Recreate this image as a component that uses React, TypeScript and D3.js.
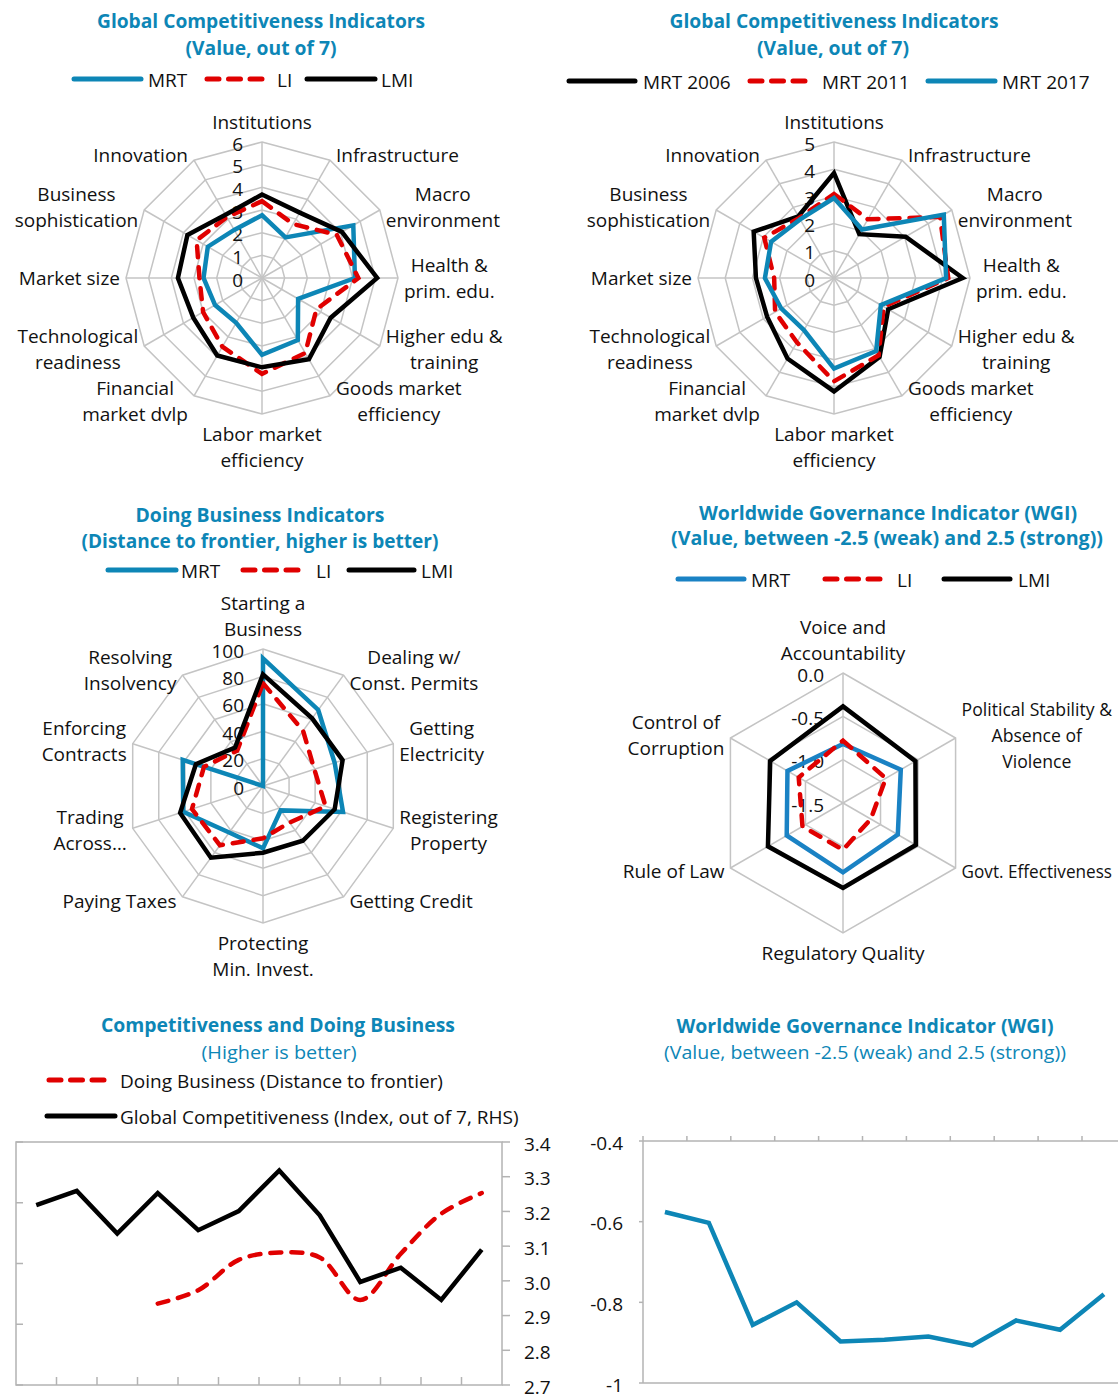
import React from 'react';
import * as d3 from 'd3';

const FONT = "'Open Sans', 'Noto Sans', 'DejaVu Sans', sans-serif";
const BLUE = '#0d86b6';
const BLUE_WGI = '#1a82c4';
const RED = '#e00000';
const BLACK = '#000000';
const GRID = '#c4c4c4';
const AXIS = '#b3b3b3';
const TITLE_BLUE = '#0d86b6';

// ---------- Panel 1: GCI pillars, MRT vs LI vs LMI ----------
const GCI_PILLARS = ['Institutions', 'Infrastructure', 'Macro\nenvironment', 'Health &\nprim. edu.', 'Higher edu &\ntraining', 'Goods market\nefficiency', 'Labor market\nefficiency', 'Financial\nmarket dvlp', 'Technological\nreadiness', 'Market size', 'Business\nsophistication', 'Innovation'];
const GCI_TICKS = [0, 1, 2, 3, 4, 5, 6];
const GCI_MRT = [2.77, 2.07, 4.65, 4.1, 1.84, 3.16, 3.39, 2.28, 2.39, 2.58, 2.76, 2.45];
const GCI_LI = [3.39, 2.75, 3.81, 4.25, 2.77, 3.82, 4.23, 3.5, 3.0, 2.76, 3.33, 3.1];
const GCI_LMI = [3.68, 3.33, 4.07, 5.08, 3.5, 4.14, 3.94, 3.95, 3.5, 3.71, 3.8, 3.22];

// ---------- Panel 2: GCI pillars, MRT over time ----------
const MRT_TICKS = [0, 1, 2, 3, 4, 5];
const MRT_2006 = [3.86, 1.86, 3.04, 4.73, 2.3, 3.35, 4.17, 3.42, 2.84, 2.87, 3.41, 2.62];
const MRT_2011 = [3.09, 2.49, 4.5, 4.2, 2.11, 3.28, 3.8, 2.73, 2.5, 2.2, 2.96, 2.55];
const MRT_2017 = [2.94, 2.06, 4.66, 4.12, 1.99, 3.1, 3.33, 2.21, 2.24, 2.54, 2.67, 2.49];

// ---------- Panel 3: Doing Business ----------
const DB_TOPICS = ['Starting a\nBusiness', 'Dealing w/\nConst. Permits', 'Getting\nElectricity', 'Registering\nProperty', 'Getting Credit', 'Protecting\nMin. Invest.', 'Paying Taxes', 'Trading\nAcross…', 'Enforcing\nContracts', 'Resolving\nInsolvency'];
const DB_TICKS = [0, 20, 40, 60, 80, 100];
const DB_MRT = [93.2, 68.6, 55, 61.4, 22, 45.5, 42, 61.2, 61.6, 0];
const DB_LI = [75, 49.8, 39.4, 48, 33, 38.2, 53.5, 54.5, 45.3, 32];
const DB_LMI = [81.5, 61, 61.1, 55, 49.4, 48.7, 64.7, 63.6, 51.5, 34.7];

// ---------- Panel 4: WGI ----------
const WGI_DIMS = ['Voice and\nAccountability', 'Political Stability &\nAbsence of\nViolence', 'Govt. Effectiveness', 'Regulatory Quality', 'Rule of Law', 'Control of\nCorruption'];
const WGI_TICKS = [-1.5, -1.0, -0.5, 0.0];
const WGI_MRT = [-0.82, -0.73, -0.77, -0.7, -0.75, -0.76];
const WGI_LI = [-0.78, -0.93, -1.13, -0.96, -0.96, -0.91];
const WGI_LMI = [-0.385, -0.535, -0.53, -0.52, -0.5, -0.53];

// ---------- Panel 5: Competitiveness and Doing Business ----------
const YEARS = ['2006', '2007', '2008', '2009', '2010', '2011', '2012', '2013', '2014', '2015', '2016', '2017'];
const GCI_SCORE = [3.218, 3.259, 3.136, 3.253, 3.146, 3.201, 3.318, 3.189, 2.997, 3.038, 2.945, 3.09];
const DB_DTF: (number | null)[] = [null, null, null, 41.7, 42.8, 45.3, 45.9, 45.5, 42.0, 45.8, 49.1, 50.8];
const DTF_TICKS = [35, 40, 45, 50, 55];
const GCI_SCORE_TICKS = [2.7, 2.8, 2.9, 3.0, 3.1, 3.2, 3.3, 3.4];

// ---------- Panel 6: WGI over time ----------
const WGI_YEARS = ['2007', '2008', '2009', '2010', '2011', '2012', '2013', '2014', '2015', '2016', '2017'];
const WGI_AVG = [-0.576, -0.603, -0.856, -0.8, -0.897, -0.893, -0.885, -0.907, -0.845, -0.868, -0.78];
const WGI_AVG_TICKS = [-1, -0.8, -0.6, -0.4];

const FS = 19;
const LH = 26;
const PAGE_W = 1118;

let _ctx: CanvasRenderingContext2D | null = null;
function measure(text: string, size = FS, weight = 400) {
  if (!_ctx) _ctx = document.createElement('canvas').getContext('2d');
  if (!_ctx) return text.length * size * 0.5;
  _ctx.font = `${weight} ${size}px ${FONT}`;
  return _ctx.measureText(text).width;
}

type Series = { values: number[]; color: string; dashed?: boolean };

function Radar({ cx, cy, radius, axes, ticks, tickFormat, series }: {
  cx: number; cy: number; radius: number; axes: string[]; ticks: number[];
  tickFormat: (t: number) => string; series: Series[];
}) {
  const n = axes.length;
  const r = d3.scaleLinear().domain([ticks[0], ticks[ticks.length - 1]]).range([0, radius]);
  const ang = (i: number) => (i * 2 * Math.PI) / n;
  const pt = (i: number, v: number): [number, number] => [cx + r(v) * Math.sin(ang(i)), cy - r(v) * Math.cos(ang(i))];
  const ring = (t: number) => (d3.line()(axes.map((_, i) => pt(i, t))) as string) + 'Z';
  const radial = d3.lineRadial<number>().angle((_, i) => ang(i)).radius((v) => r(v)).curve(d3.curveLinearClosed);
  const maxT = ticks[ticks.length - 1];

  return (
    <g>
      {ticks.slice(1).map((t) => (
        <path key={'r' + t} d={ring(t)} fill="none" stroke={GRID} strokeWidth={1.5} />
      ))}
      {axes.map((_, i) => {
        const [x, y] = pt(i, maxT);
        return <line key={'s' + i} x1={cx} y1={cy} x2={x} y2={y} stroke={GRID} strokeWidth={1.5} />;
      })}
      {ticks.map((t) => (
        <text key={'t' + t} x={cx - 19} y={cy - r(t) + 2} dy="0.35em" textAnchor="end" fontSize={FS} fill="#111">
          {tickFormat(t)}
        </text>
      ))}
      {series.map((s, k) => (
        <path key={'p' + k} d={radial(s.values) as string} transform={`translate(${cx},${cy})`} fill="none"
          stroke={s.color} strokeWidth={4.5} strokeLinejoin="miter" strokeLinecap={s.dashed ? 'round' : 'butt'}
          strokeDasharray={s.dashed ? '11 10' : undefined} />
      ))}
      {axes.map((label, i) => {
        const a = ang(i);
        const sin = Math.sin(a);
        const cos = Math.cos(a);
        const vx = cx + radius * sin;
        const vy = cy - radius * cos;
        const lines = label.split('\n');
        const widths = lines.map((l) => measure(l));
        let w = Math.max(...widths);
        let squeeze = 1;
        const limit = PAGE_W - 6;
        if (sin > 0.2 && vx + 6 + w > limit) {
          squeeze = (limit - vx - 6) / w;
          w = w * squeeze;
        }
        const h = lines.length * LH;
        let bx: number, by: number;
        if (Math.abs(sin) < 0.2) {
          bx = vx;
          by = vy - Math.sign(cos) * (7 + h / 2);
        } else {
          bx = vx + Math.sign(sin) * (6 + w / 2);
          by = vy - cos * 6;
        }
        return (
          <g key={'l' + i}>
            {lines.map((l, j) => (
              <text key={j} x={bx} y={by - h / 2 + LH * (j + 0.5)} dy="0.35em" textAnchor="middle" fontSize={FS} fill="#111"
                textLength={squeeze < 1 ? widths[j] * squeeze : undefined}
                lengthAdjust={squeeze < 1 ? 'spacingAndGlyphs' : undefined}>
                {l}
              </text>
            ))}
          </g>
        );
      })}
    </g>
  );
}

function Title({ x, y, text, width, bold = true }: { x: number; y: number; text: string; width: number; bold?: boolean }) {
  return (
    <text x={x} y={y} dy="0.35em" textAnchor="middle" fontSize={FS} fontWeight={bold ? 700 : 400} fill={TITLE_BLUE}
      textLength={width} lengthAdjust="spacingAndGlyphs">
      {text}
    </text>
  );
}

function LegendItem({ x1, x2, y, tx, label, color, dashed }: { x1: number; x2: number; y: number; tx: number; label: string; color: string; dashed?: boolean }) {
  return (
    <g>
      <line x1={x1 + (dashed ? 2 : 0)} x2={x2} y1={y} y2={y} stroke={color} strokeWidth={5}
        strokeLinecap="round" strokeDasharray={dashed ? '12 9.5' : undefined} />
      <text x={tx} y={y + 1} dy="0.35em" fontSize={FS} fill="#111">{label}</text>
    </g>
  );
}

function CompetitivenessChart() {
  const left = 16, right = 502, top = 1142, bottom = 1385;
  const x = d3.scaleBand<string>().domain(YEARS).range([left, right]);
  const bw = x.bandwidth();
  const cxp = (yr: string) => (x(yr) as number) + bw / 2;
  const yR = d3.scaleLinear().domain([2.7, 3.4]).range([bottom, top]);
  const yL = d3.scaleLinear().domain([35, 55]).range([bottom, top]);
  const gciLine = d3.line<number>().x((_, i) => cxp(YEARS[i])).y((v) => yR(v));
  const dbLine = d3.line<number | null>().defined((v) => v != null).x((_, i) => cxp(YEARS[i])).y((v) => yL(v as number)).curve(d3.curveCatmullRom);
  return (
    <g>
      <rect x={left} y={top} width={right - left} height={bottom - top} fill="none" stroke={AXIS} strokeWidth={1.5} />
      {DTF_TICKS.map((t) => (
        <line key={'lt' + t} x1={left} x2={left + 7} y1={yL(t)} y2={yL(t)} stroke={AXIS} strokeWidth={1.5} />
      ))}
      {YEARS.slice(1).map((yr) => (
        <line key={'bt' + yr} x1={x(yr)} x2={x(yr)} y1={bottom} y2={bottom - 8} stroke={AXIS} strokeWidth={1.5} />
      ))}
      {GCI_SCORE_TICKS.map((t) => (
        <g key={'rt' + t}>
          <line x1={right} x2={right + 8} y1={yR(t)} y2={yR(t)} stroke={AXIS} strokeWidth={1.5} />
          <text x={right + 22} y={yR(t) + 2} dy="0.35em" fontSize={FS} fill="#111">{t.toFixed(1)}</text>
        </g>
      ))}
      <path d={dbLine(DB_DTF) as string} fill="none" stroke={RED} strokeWidth={4.5} strokeDasharray="11 10" strokeLinecap="round" />
      <path d={gciLine(GCI_SCORE) as string} fill="none" stroke={BLACK} strokeWidth={4.5} strokeLinejoin="miter" />
    </g>
  );
}

function WgiTimeChart() {
  const left = 643, top = 1141, bottom = 1383;
  const bw = 43.9;
  const x = d3.scaleBand<string>().domain(WGI_YEARS).range([left, left + bw * WGI_YEARS.length]);
  const right = left + bw * WGI_YEARS.length;
  const y = d3.scaleLinear().domain([-1, -0.4]).range([bottom, top]);
  const line = d3.line<number>().x((_, i) => (x(WGI_YEARS[i]) as number) + x.bandwidth() / 2).y((v) => y(v));
  return (
    <g>
      <line x1={left} x2={right} y1={top} y2={top} stroke={AXIS} strokeWidth={1.5} />
      <line x1={left} x2={right} y1={bottom} y2={bottom} stroke={AXIS} strokeWidth={1.5} />
      <line x1={left} x2={left} y1={top} y2={bottom} stroke={AXIS} strokeWidth={1.5} />
      {WGI_YEARS.map((yr) => (
        <line key={'tt' + yr} x1={x(yr)} x2={x(yr)} y1={top} y2={top - 5} stroke={AXIS} strokeWidth={1.5} />
      ))}
      {WGI_AVG_TICKS.map((t) => (
        <g key={'yt' + t}>
          <line x1={left - 4} x2={left} y1={y(t)} y2={y(t)} stroke={AXIS} strokeWidth={1.5} />
          <text x={left - 20} y={y(t) + 2} dy="0.35em" textAnchor="end" fontSize={FS} fill="#111">
            {t === -1 ? '-1' : t.toFixed(1)}
          </text>
        </g>
      ))}
      <path d={line(WGI_AVG) as string} fill="none" stroke={BLUE} strokeWidth={4.5} strokeLinejoin="miter" />
    </g>
  );
}

export default function App() {
  return (
    <>
      <style>{'html,body{margin:0;padding:0;background:#fff;}'}</style>
      <svg width={1118} height={1395} style={{ display: 'block', fontFamily: FONT }}>
        <rect width={1118} height={1395} fill="#fff" />

        {/* Panel 1 */}
        <Title x={261} y={21} text="Global Competitiveness Indicators" width={328} />
        <Title x={261} y={48} text="(Value, out of 7)" width={151} />
        <LegendItem x1={74} x2={141} y={79} tx={148} label="MRT" color={BLUE} />
        <LegendItem x1={205} x2={266} y={79} tx={277} label="LI" color={RED} dashed />
        <LegendItem x1={307} x2={375} y={79} tx={381} label="LMI" color={BLACK} />
        <Radar cx={262} cy={278} radius={136} axes={GCI_PILLARS} ticks={GCI_TICKS} tickFormat={(t) => String(t)}
          series={[{ values: GCI_MRT, color: BLUE }, { values: GCI_LI, color: RED, dashed: true }, { values: GCI_LMI, color: BLACK }]} />

        {/* Panel 2 */}
        <Title x={834} y={21} text="Global Competitiveness Indicators" width={329} />
        <Title x={833} y={48} text="(Value, out of 7)" width={152} />
        <LegendItem x1={569} x2={635} y={81} tx={643} label="MRT 2006" color={BLACK} />
        <LegendItem x1={748} x2={807} y={81} tx={822} label="MRT 2011" color={RED} dashed />
        <LegendItem x1={928} x2={995} y={81} tx={1002} label="MRT 2017" color={BLUE} />
        <Radar cx={834} cy={278} radius={136} axes={GCI_PILLARS} ticks={MRT_TICKS} tickFormat={(t) => String(t)}
          series={[{ values: MRT_2006, color: BLACK }, { values: MRT_2011, color: RED, dashed: true }, { values: MRT_2017, color: BLUE }]} />

        {/* Panel 3 */}
        <Title x={260} y={515} text="Doing Business Indicators" width={249} />
        <Title x={260} y={541} text="(Distance to frontier, higher is better)" width={357} />
        <LegendItem x1={108} x2={176} y={570} tx={181} label="MRT" color={BLUE} />
        <LegendItem x1={241} x2={302} y={570} tx={316} label="LI" color={RED} dashed />
        <LegendItem x1={349} x2={414} y={570} tx={421} label="LMI" color={BLACK} />
        <Radar cx={263} cy={786} radius={137} axes={DB_TOPICS} ticks={DB_TICKS} tickFormat={(t) => String(t)}
          series={[{ values: DB_MRT, color: BLUE }, { values: DB_LI, color: RED, dashed: true }, { values: DB_LMI, color: BLACK }]} />

        {/* Panel 4 */}
        <Title x={888} y={513} text="Worldwide Governance Indicator (WGI)" width={378} />
        <Title x={887} y={538} text="(Value, between -2.5 (weak) and 2.5 (strong))" width={432} />
        <LegendItem x1={678} x2={744} y={579} tx={751} label="MRT" color={BLUE_WGI} />
        <LegendItem x1={823} x2={882} y={579} tx={897} label="LI" color={RED} dashed />
        <LegendItem x1={944} x2={1010} y={579} tx={1018} label="LMI" color={BLACK} />
        <Radar cx={843} cy={803} radius={130} axes={WGI_DIMS} ticks={WGI_TICKS} tickFormat={(t) => t.toFixed(1)}
          series={[{ values: WGI_MRT, color: BLUE_WGI }, { values: WGI_LI, color: RED, dashed: true }, { values: WGI_LMI, color: BLACK }]} />

        {/* Panel 5 */}
        <Title x={278} y={1025} text="Competitiveness and Doing Business" width={354} />
        <Title x={279} y={1052} text="(Higher is better)" width={155} bold={false} />
        <LegendItem x1={47} x2={108} y={1080} tx={120} label="Doing Business (Distance to frontier)" color={RED} dashed />
        <LegendItem x1={47} x2={115} y={1116} tx={120} label="Global Competitiveness (Index, out of 7, RHS)" color={BLACK} />
        <CompetitivenessChart />

        {/* Panel 6 */}
        <Title x={865} y={1026} text="Worldwide Governance Indicator (WGI)" width={377} />
        <Title x={865} y={1052} text="(Value, between -2.5 (weak) and 2.5 (strong))" width={402} bold={false} />
        <WgiTimeChart />
      </svg>
    </>
  );
}
